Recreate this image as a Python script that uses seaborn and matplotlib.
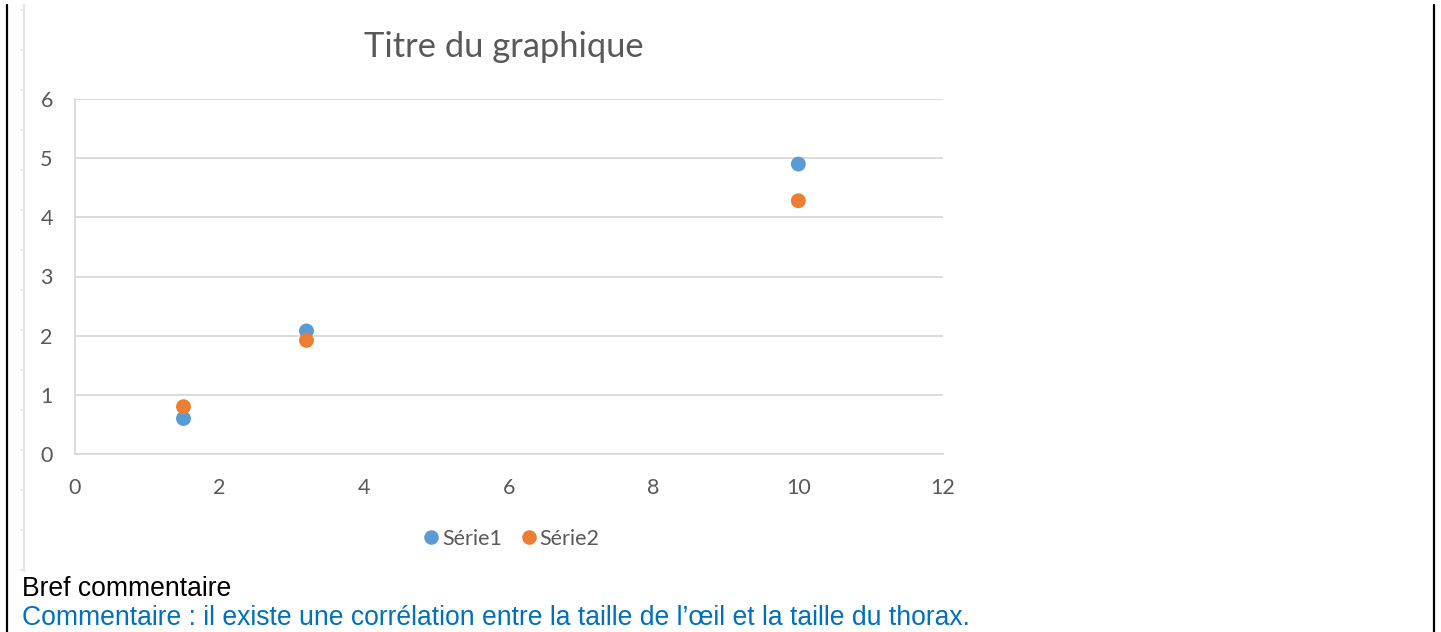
import matplotlib
matplotlib.use("Agg")
import matplotlib.pyplot as plt
from matplotlib.lines import Line2D
import seaborn as sns
import pandas as pd

# Series data
serie1_x = [1.5, 3.2, 10.0]
serie1_y = [0.6, 2.08, 4.9]
serie2_x = [1.5, 3.2, 10.0]
serie2_y = [0.8, 1.92, 4.28]
series_names = ["Série1", "Série2"]
x_ticks = [0, 2, 4, 6, 8, 10, 12]
y_ticks = [0, 1, 2, 3, 4, 5, 6]

title = "Titre du graphique"
caption = "Bref commentaire"
comment = "Commentaire : il existe une corrélation entre la taille de l’œil et la taille du thorax."

df = pd.DataFrame({
    "x": serie1_x + serie2_x,
    "y": serie1_y + serie2_y,
    "serie": [series_names[0]] * len(serie1_x) + [series_names[1]] * len(serie2_x),
})

sns.set_theme(style="white")
plt.rcParams["font.family"] = ["Lato", "DejaVu Sans"]

W, H = 1441, 632
fig = plt.figure(figsize=(W / 100, H / 100), dpi=100)

ax = fig.add_axes([75 / W, 1 - 454 / H, (943 - 75) / W, (454 - 99) / H])
palette = {"Série1": "#5B9BD5", "Série2": "#ED7D31"}
sns.scatterplot(data=df, x="x", y="y", hue="serie", palette=palette,
                s=115, linewidth=0, ax=ax, legend=False, zorder=3)

grey = "#595959"
grid_col = "#d9d9d9"
ax.set_xlim(x_ticks[0], x_ticks[-1])
ax.set_ylim(y_ticks[0], y_ticks[-1])
ax.set_xticks(x_ticks)
ax.set_yticks(y_ticks)
ax.set_xlabel("")
ax.set_ylabel("")
ax.yaxis.grid(True, color=grid_col, linewidth=1.3)
ax.xaxis.grid(False)
ax.set_axisbelow(True)
for side in ["top", "right"]:
    ax.spines[side].set_visible(False)
for side in ["left", "bottom"]:
    ax.spines[side].set_color(grid_col)
    ax.spines[side].set_linewidth(1.3)
ax.tick_params(axis="both", length=0, labelsize=15.5, colors=grey)
ax.tick_params(axis="y", pad=16)
ax.tick_params(axis="x", pad=17)

fig.text(504 / W, 1 - 47 / H, title, ha="center", va="center",
         fontsize=24.8, color=grey)

handles = [Line2D([], [], marker="o", linestyle="", markersize=10.5,
                  markerfacecolor=palette[n], markeredgewidth=0) for n in series_names]
fig.legend(handles, series_names, loc="center", bbox_to_anchor=(510 / W, 1 - 539 / H),
           ncol=2, frameon=False, fontsize=15.5, labelcolor=grey,
           handletextpad=0.0, columnspacing=0.75, handlelength=1.0)

# Chart frame edge with ruler dashes
fig.add_artist(Line2D([24 / W, 24 / W], [1 - 5 / H, 1 - 571 / H], color="#e3e3e3", linewidth=1.5))
for yy in range(10, 571, 40):
    fig.add_artist(Line2D([21 / W, 24 / W], [1 - yy / H, 1 - yy / H], color="#e3e3e3", linewidth=1.2))

# Table borders
fig.add_artist(Line2D([7 / W, 7 / W], [1 - 5 / H, 0], color="black", linewidth=1.6))
fig.add_artist(Line2D([1433.5 / W, 1433.5 / W], [1 - 5 / H, 0], color="black", linewidth=1.6))

fig.text(22 / W, 1 - 596 / H, caption, ha="left", va="baseline",
         fontsize=19.1, color="black", family=["Liberation Sans", "DejaVu Sans"])
fig.text(22 / W, 1 - 625 / H, comment, ha="left", va="baseline",
         fontsize=19.1, color="#0070C0", family=["Liberation Sans", "DejaVu Sans"])

fig.savefig("out.png", dpi=100, facecolor="white")
